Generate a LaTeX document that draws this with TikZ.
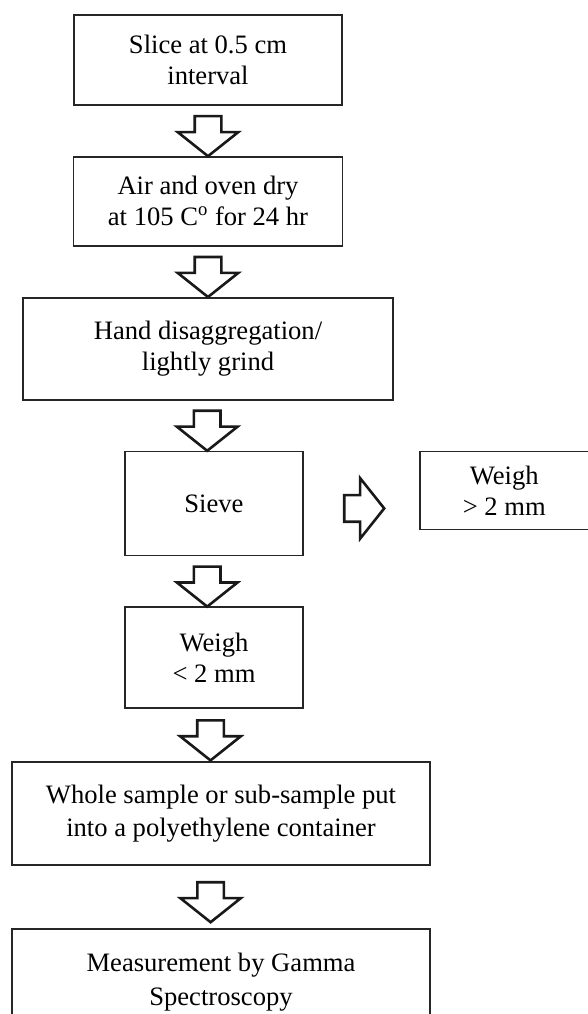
\documentclass[tikz,border=0pt]{standalone}
\usepackage{fontspec}
\setmainfont{Liberation Serif}
\usetikzlibrary{positioning, shapes.arrows, calc}
\tikzset{
    proc/.style={rectangle, draw=black!85, line width=0.9pt, align=center, inner sep=2pt, font=\fontsize{13.3pt}{15.5pt}\selectfont},
    wproc/.style={proc, font=\fontsize{13.3pt}{16.8pt}\selectfont},
    darr/.style={single arrow, draw=black!90, line width=1.3pt, minimum height=20pt, minimum width=29pt, single arrow head extend=8.5pt, single arrow tip angle=103, inner sep=6pt, shape border rotate=270},
    rarr/.style={darr, shape border rotate=0},
}

\begin{document}
\begin{tikzpicture}
        \useasboundingbox (0,0) rectangle (294pt,-507pt);
        \node [proc, minimum width=134pt, minimum height=45pt] (slice) at (104pt,-30pt) {Slice at 0.5 cm\\interval};
        \node [proc, minimum width=134.5pt, minimum height=44.5pt] (dry) [below=25pt of slice] {Air and oven dry\\at 105 C\textsuperscript{o} for 24 hr};
        \node [proc, minimum width=185pt, minimum height=51pt] (grind) [below=25pt of dry] {Hand disaggregation/\\lightly grind};
        \node [proc, minimum width=89pt, minimum height=52pt] (sieve) [below=25pt of grind, xshift=3pt] {Sieve};
        \node [proc, minimum width=89pt, minimum height=50.5pt] (weighsmall) [below=25pt of sieve] {Weigh\\< 2 mm};
        \node [wproc, minimum width=209pt, minimum height=51.5pt] (whole) [below=26pt of weighsmall, xshift=3.5pt] {Whole sample or sub-sample put\\into a polyethylene container};
        \node [wproc, minimum width=209pt, minimum height=53.5pt] (gamma) [below=31pt of whole] {Measurement by Gamma\\Spectroscopy};
        \node [proc, anchor=north west, minimum width=84.5pt, minimum height=39pt] (weighbig) at ([xshift=57.5pt]sieve.north east) {Weigh\\> 2 mm};
        \node [darr] (a1) at ($(slice.south)!0.5!(dry.north)$) {};
        \node [darr] (a2) at ($(dry.south)!0.5!(grind.north)$) {};
        \node [darr, xshift=-1.9pt] (a3) at ($(grind.south)!0.5!(sieve.north)$) {};
        \node [darr, xshift=-3.4pt] (a4) at ($(sieve.south)!0.5!(weighsmall.north)$) {};
        \node [darr, xshift=-3.5pt] (a5) at ($(weighsmall.south)!0.5!(whole.north)$) {};
        \node [darr, xshift=-5.2pt] (a6) at ($(whole.south)!0.5!(gamma.north)$) {};
        \node [rarr] (a7) [right=19.5pt of sieve, yshift=-2.5pt] {};
    \end{tikzpicture}
\end{document}
